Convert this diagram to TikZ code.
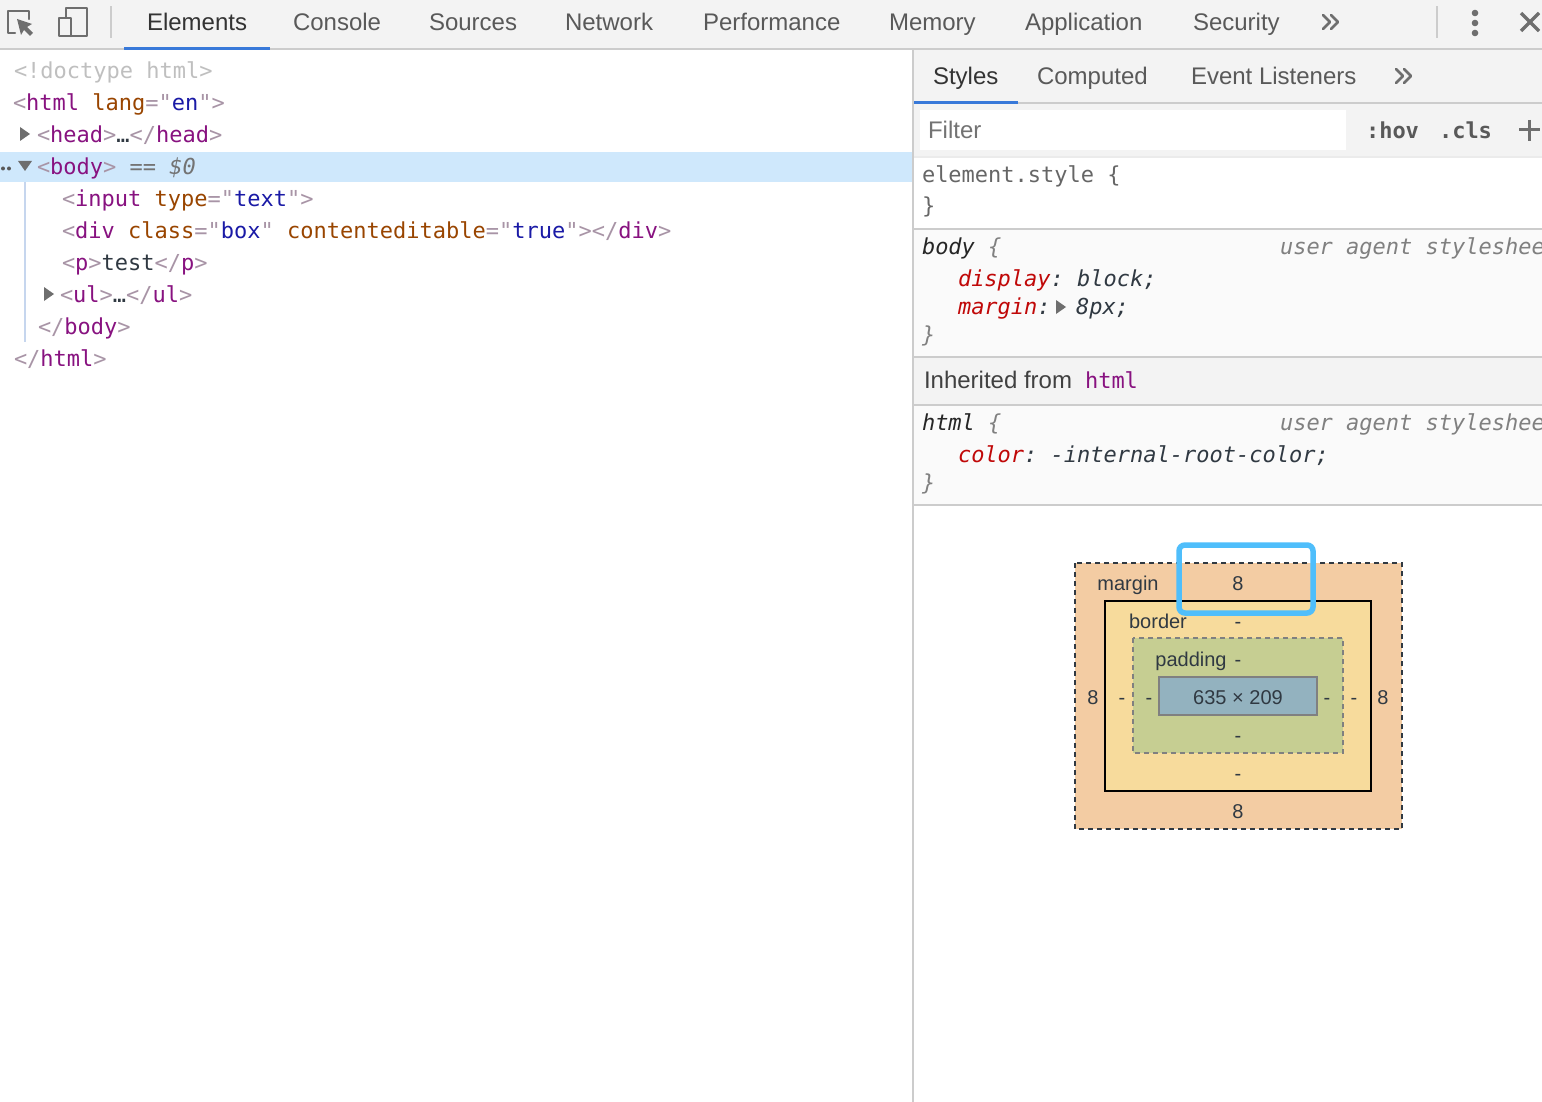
\documentclass[tikz,border=0pt]{standalone}
\usepackage{fontspec}
\setmainfont{Liberation Sans}
\setmonofont{DejaVu Sans Mono}

\definecolor{barGray}{HTML}{F3F3F3}
\definecolor{ruleGray}{HTML}{CCCCCC}
\definecolor{iconGray}{HTML}{6E6E6E}
\definecolor{tabBlue}{HTML}{3879D9}
\definecolor{selBlue}{HTML}{CFE8FC}
\definecolor{guideBlue}{HTML}{C6D6EE}
\definecolor{paneGray}{HTML}{FAFAFA}
\definecolor{tagPurple}{HTML}{881280}
\definecolor{attrBrown}{HTML}{994500}
\definecolor{valBlue}{HTML}{1A1AA6}
\definecolor{punctGray}{HTML}{A894A6}
\definecolor{propRed}{HTML}{C00808}
\definecolor{inkDark}{HTML}{303942}
\definecolor{marginFill}{HTML}{F3CCA3}
\definecolor{borderFill}{HTML}{F7DB9C}
\definecolor{paddingFill}{HTML}{C6CE92}
\definecolor{contentFill}{HTML}{93B2BF}
\definecolor{hiliteBlue}{HTML}{4FBEFB}

\newcommand\Pun[1]{\textcolor{punctGray}{#1}}
\newcommand\Tagn[1]{\textcolor{tagPurple}{#1}}
\newcommand\Atn[1]{\textcolor{attrBrown}{#1}}
\newcommand\Atv[1]{\textcolor{valBlue}{#1}}

\tikzset{
  txt/.style={anchor=base west, inner sep=0pt, outer sep=0pt, yshift=-0.7pt},
  codetext/.style={txt, text=inkDark, font=\fontsize{22}{26}\selectfont\ttfamily},
  slanttext/.style={codetext, font=\fontsize{22}{26}\selectfont\ttfamily\itshape},
  tabtext/.style={txt, text=black!65, font=\fontsize{24}{28}\selectfont},
  boxtext/.style={anchor=base, inner sep=0pt, outer sep=0pt, text=inkDark, font=\fontsize{20}{24}\selectfont},
  rulefill/.style={fill=ruleGray, draw=none},
  icon/.style={draw=iconGray, line width=2.4pt, line cap=round, line join=round},
  tri/.style={fill=iconGray, draw=none},
}

\begin{document}
\begin{tikzpicture}[x=1pt, y=-1pt]

\useasboundingbox (0,0) rectangle (1542,1102);
\fill[white] (0,0) rectangle (1542,1102);

% bars and panes
\fill[barGray] (0,0) rectangle (1542,48);
\fill[rulefill] (0,48) rectangle (1542,50);
\fill[barGray] (914,50) rectangle (1542,102);
\fill[rulefill] (914,102) rectangle (1542,104);
\fill[barGray] (914,104) rectangle (1542,156);
\fill[white] (920,110) rectangle (1346,150);
\fill[black!8] (914,156) rectangle (1542,158);
\fill[selBlue] (0,152) rectangle (913,182);
\fill[paneGray] (914,230) rectangle (1542,356);
\fill[barGray] (914,358) rectangle (1542,404);
\fill[paneGray] (914,406) rectangle (1542,504);
\fill[rulefill] (914,228) rectangle (1542,230);
\fill[rulefill] (914,356) rectangle (1542,358);
\fill[rulefill] (914,404) rectangle (1542,406);
\fill[rulefill] (914,504) rectangle (1542,506);
\fill[rulefill] (912,50) rectangle (914,1102);
\fill[tabBlue] (124,47) rectangle (270,50);
\fill[tabBlue] (914,101) rectangle (1018,104);

% toolbar icons
\draw[icon] (29,19) -- (29,11) -- (8,11) -- (8,33) -- (15,33);
\fill[iconGray] (17,19) -- (32,24) -- (27,27) -- (33,33) -- (30,36) -- (24,30) -- (21,35) -- cycle;
\draw[icon] (66,17) -- (66,8) -- (87,8) -- (87,36) -- (59,36) -- (59,18) -- (71,18) -- (71,36);
\fill[rulefill] (110,6) rectangle (112,38);
\fill[rulefill] (1436,6) rectangle (1438,38);
\fill[iconGray] (1475,13) circle (3.3);
\fill[iconGray] (1475,23) circle (3.3);
\fill[iconGray] (1475,33) circle (3.3);
\draw[icon, line width=3.4pt, line cap=butt] (1521,13) -- (1539,31);
\draw[icon, line width=3.4pt, line cap=butt] (1539,13) -- (1521,31);
\draw[icon, line width=3pt, line cap=butt] (1519,130) -- (1540,130);
\draw[icon, line width=3pt, line cap=butt] (1529.5,120) -- (1529.5,141);
\foreach \Xc/\Yc in {1330/22,1403/76} {
  \draw[icon, line width=2.6pt] (\Xc-7,\Yc-7) -- (\Xc,\Yc) -- (\Xc-7,\Yc+7);
  \draw[icon, line width=2.6pt] (\Xc+1,\Yc-7) -- (\Xc+8,\Yc) -- (\Xc+1,\Yc+7);
}

% tabs
\node[tabtext, text=black!80] (tabElements) at (147,30) {Elements};
\foreach \Xt/\Name in {293/Console,429/Sources,565/Network,703/Performance,889/Memory,1025/Application,1193/Security} {
  \node[tabtext] (tab\Name) at (\Xt,30) {\Name};
}
\node[tabtext, text=black!80] (tabStyles) at (933,84) {Styles};
\node[tabtext] (tabComputed) at (1037,84) {Computed};
\node[tabtext] (tabEvents) at (1191,84) {Event Listeners};

% dom tree
\fill[tri] (20,127) -- (30,134) -- (20,141) -- cycle;
\fill[tri] (18,161) -- (32,161) -- (25,171) -- cycle;
\fill[tri] (44,287) -- (54,294) -- (44,301) -- cycle;
\fill[black!65] (3,168.5) circle (2);
\fill[black!65] (9,168.5) circle (2);
\fill[guideBlue] (24,182) rectangle (26,342);

\node[codetext, text=black!25] (domDoctype) at (14,78) {<!doctype html>};
\node[codetext] (domHtml) at (13,110) {\Pun{<}\Tagn{html} \Atn{lang}\Pun{="}\Atv{en}\Pun{">}};
\node[codetext] (domHead) at (37,142) {\Pun{<}\Tagn{head}\Pun{>}…\Pun{</}\Tagn{head}\Pun{>}};
\node[codetext] (domBody) at (37,174) {\Pun{<}\Tagn{body}\Pun{>} \textcolor{black!55}{==} \textcolor{black!55}{\itshape\$0}};
\node[codetext] (domInput) at (62,206) {\Pun{<}\Tagn{input} \Atn{type}\Pun{="}\Atv{text}\Pun{">}};
\node[codetext] (domDiv) at (62,238) {\Pun{<}\Tagn{div} \Atn{class}\Pun{="}\Atv{box}\Pun{"} \Atn{contenteditable}\Pun{="}\Atv{true}\Pun{">}\Pun{</}\Tagn{div}\Pun{>}};
\node[codetext] (domP) at (62,270) {\Pun{<}\Tagn{p}\Pun{>}test\Pun{</}\Tagn{p}\Pun{>}};
\node[codetext] (domUl) at (60,302) {\Pun{<}\Tagn{ul}\Pun{>}…\Pun{</}\Tagn{ul}\Pun{>}};
\node[codetext] (domBodyEnd) at (38,334) {\Pun{</}\Tagn{body}\Pun{>}};
\node[codetext] (domHtmlEnd) at (14,366) {\Pun{</}\Tagn{html}\Pun{>}};

% styles pane
\node[tabtext, text=black!55] (filterText) at (928,138) {Filter};
\node[codetext, text=black!65, font=\fontsize{22}{26}\selectfont\ttfamily\bfseries] (btnHov) at (1366,138) {:hov};
\node[codetext, text=black!65, font=\fontsize{22}{26}\selectfont\ttfamily\bfseries] (btnCls) at (1439,138) {.cls};

\node[codetext, text=black!60] (ruleElement) at (922,182) {element.style \{};
\node[codetext, text=black!60] (ruleElementEnd) at (922,213) {\}};

\node[slanttext, text=black!85] (ruleBody) at (922,254) {body \textcolor{black!50}{\{}};
\node[slanttext, text=black!50] (agentBody) at (1280,254) {user agent styleshee};
\node[slanttext] (propDisplay) at (958,286) {\textcolor{propRed}{display}: block;};
\node[slanttext] (propMargin) at (958,314) {\textcolor{propRed}{margin}:};
\fill[tri] (1056,300) -- (1066,307) -- (1056,314) -- cycle;
\node[slanttext] (valMargin) at (1076,314) {8px;};
\node[slanttext, text=black!50] (ruleBodyEnd) at (922,342) {\}};

\node[tabtext, text=black!75] (inheritText) at (924,388) {Inherited from};
\node[codetext, text=tagPurple] (inheritTag) at (1085,388) {html};

\node[slanttext, text=black!85] (ruleHtml) at (922,430) {html \textcolor{black!50}{\{}};
\node[slanttext, text=black!50] (agentHtml) at (1280,430) {user agent styleshee};
\node[slanttext] (propColor) at (958,462) {\textcolor{propRed}{color}: -internal-root-color;};
\node[slanttext, text=black!50] (ruleHtmlEnd) at (922,490) {\}};

% box model
\draw[fill=marginFill, draw=inkDark, line width=1.6pt, dash pattern=on 5pt off 4pt] (1075,563) rectangle (1402,829);
\draw[fill=borderFill, draw=black, line width=2pt] (1105,601) rectangle (1371,791);
\draw[fill=paddingFill, draw=black!50, line width=1.8pt, dash pattern=on 5pt off 4pt] (1133,638) rectangle (1343,753);
\draw[fill=contentFill, draw=black!50, line width=2pt] (1159,677) rectangle (1317,715);

\node[boxtext] (lblMargin) at (1128,590) {margin};
\node[boxtext] (lblBorder) at (1158,628) {border};
\node[boxtext] (lblPadding) at (1191,666) {padding};
\node[boxtext] (lblContent) at (1238,704) {635 × 209};
\foreach \Xb/\Yb/\Val/\Id in {1238/590/8/mt,1238/628/-/bt,1238/666/-/pt,1238/742/-/pb,1238/780/-/bb,1238/818/8/mb,1093/704/8/ml,1122/704/-/bl,1149/704/-/pl,1327/704/-/pr,1354/704/-/br,1383/704/8/mr} {
  \node[boxtext] (val\Id) at (\Xb,\Yb) {\Val};
}
\draw[hiliteBlue, line width=5.5pt, rounded corners=6pt] (1179,545) rectangle (1313,613);

\end{tikzpicture}
\end{document}
